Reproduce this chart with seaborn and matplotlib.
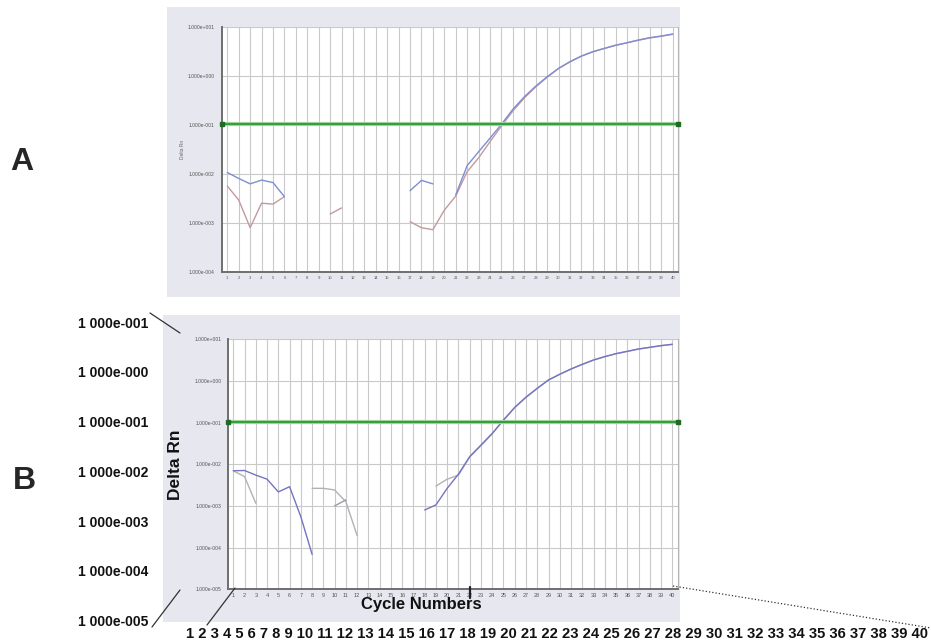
import numpy as np
import pandas as pd
import seaborn as sns
import matplotlib
matplotlib.use("Agg")
import matplotlib.pyplot as plt
from matplotlib.patches import Rectangle
from matplotlib.lines import Line2D
from matplotlib.ticker import FixedLocator, FixedFormatter

# ---------------- data ----------------
cycles = list(range(1, 41))
N = None

A_blue = [0.0106, 0.0080, 0.0062, 0.0074, 0.0066, 0.0034, N, N, N, N,
          N, N, N, N, N, N, 0.0045, 0.0073, 0.0062, N,
          0.0037, 0.0146, 0.028, 0.053, 0.102, 0.206, 0.37, 0.61, 0.95, 1.41,
          1.93, 2.52, 3.09, 3.6, 4.2, 4.7, 5.35, 5.97, 6.45, 7.1]
A_red = [0.0056, 0.0029, 0.00079, 0.0025, 0.0024, 0.0034, N, N, N, 0.0015,
         0.0020, N, N, N, N, N, 0.00105, 0.00079, 0.00072, 0.0018,
         0.0035, 0.011, 0.021, 0.045, 0.094, 0.19, 0.35, 0.59, 0.93, 1.40,
         1.92, 2.50, 3.07, 3.6, 4.15, 4.7, 5.3, 5.9, 6.4, 7.0]

B_blue = [0.0070, 0.0071, 0.0055, 0.0044, 0.00217, 0.0029, 0.00055, 0.000069, N, N,
          N, N, N, N, N, N, N, 0.0008, 0.00106, 0.00265,
          0.0058, 0.0153, 0.029, 0.055, 0.116, 0.233, 0.41, 0.667, 1.06, 1.45,
          1.94, 2.51, 3.19, 3.84, 4.53, 5.15, 5.86, 6.43, 7.05, 7.59]
B_grey = [0.0070, 0.00506, 0.00116, N, N, N, N, 0.00265, 0.00265, 0.00242,
          0.00127, 0.000194, N, N, N, N, N, N, 0.0030, 0.0044,
          0.0055, 0.0150, 0.028, 0.054, 0.113, 0.228, 0.40, 0.66, 1.05, 1.44,
          1.93, 2.50, 3.17, 3.82, 4.50, 5.12, 5.83, 6.40, 7.02, 7.55]
B_grey2 = [N] * 9 + [0.0010, 0.0014] + [N] * 29

threshold = 0.105
cursor_cycle = 22

A_yticks = [1e1, 1e0, 1e-1, 1e-2, 1e-3, 1e-4]
A_yticklabels = ["1.000e+001", "1.000e+000", "1.000e-001", "1.000e-002", "1.000e-003", "1.000e-004"]
B_yticks = [1e1, 1e0, 1e-1, 1e-2, 1e-3, 1e-4, 1e-5]
B_yticklabels = ["1.000e+001", "1.000e+000", "1.000e-001", "1.000e-002", "1.000e-003", "1.000e-004", "1.000e-005"]
big_labels = ["1 000e-001", "1 000e-000", "1 000e-001", "1 000e-002", "1 000e-003", "1 000e-004", "1 000e-005"]

# ---------------- style ----------------
sns.set_theme(style="white")
plt.rcParams['font.family'] = ['Liberation Sans', 'DejaVu Sans']

W, H = 931, 644
fig = plt.figure(figsize=(W / 100, H / 100), dpi=100)
fig.patch.set_facecolor("white")

def fx(x):
    return x / W

def fy(y):
    return 1 - y / H

def rect_px(x0, y0, x1, y1):
    return [fx(x0), fy(y1), fx(x1) - fx(x0), fy(y0) - fy(y1)]

# grey panels
for (x0, y0, x1, y1) in [(167, 7, 680, 297), (163, 315, 680, 622)]:
    fig.add_artist(Rectangle((fx(x0), fy(y1)), fx(x1) - fx(x0), fy(y0) - fy(y1),
                             transform=fig.transFigure, facecolor="#e7e7ef",
                             edgecolor="none", zorder=-5))

axA = fig.add_axes(rect_px(221.7, 26.7, 678, 271.7))
axB = fig.add_axes(rect_px(228.3, 339.3, 678.3, 589.3))

def segments(xs, ys):
    run_x, run_y = [], []
    for x, y in zip(xs, ys):
        if y is None:
            if run_x:
                yield run_x, run_y
            run_x, run_y = [], []
        else:
            run_x.append(x)
            run_y.append(y)
    if run_x:
        yield run_x, run_y

def draw_series(ax, ys, color, lw=1.0):
    for sx, sy in segments(cycles, ys):
        df = pd.DataFrame({"cycle": sx, "rn": sy})
        sns.lineplot(data=df, x="cycle", y="rn", color=color, lw=lw, ax=ax,
                     estimator=None, sort=False, zorder=3)

def style_axes(ax, yticks, yticklabels, ylim, xlim, xfs, yfs):
    ax.set_yscale("log")
    ax.set_ylim(*ylim)
    ax.set_xlim(*xlim)
    ax.yaxis.set_major_locator(FixedLocator(yticks))
    ax.yaxis.set_major_formatter(FixedFormatter(yticklabels))
    ax.yaxis.set_minor_locator(FixedLocator([]))
    ax.xaxis.set_major_locator(FixedLocator(cycles))
    ax.xaxis.set_major_formatter(FixedFormatter([str(c) for c in cycles]))
    ax.grid(True, which="major", color="#c9c9c9", lw=0.8)
    ax.set_axisbelow(True)
    ax.tick_params(axis="y", length=0, labelsize=yfs, labelcolor="#555555", pad=5)
    ax.tick_params(axis="x", length=0, labelsize=xfs, labelcolor="#555555", pad=3)
    for s in ["top", "right"]:
        ax.spines[s].set_color("#b5b5b5")
        ax.spines[s].set_linewidth(0.8)
    for s in ["left", "bottom"]:
        ax.spines[s].set_color("#6e6e6e")
        ax.spines[s].set_linewidth(1.4)
    ax.spines["top"].set_visible(False)
    ax.axhline(threshold, color="#a6d6a6", lw=3.0, zorder=4)
    ax.axhline(threshold, color="#35a03b", lw=1.5, zorder=4)
    ax.plot([0, 1], [threshold, threshold], ls="none", marker="s", ms=2.5,
            color="#1f6b25", transform=ax.get_yaxis_transform(), clip_on=False, zorder=5)
    ax.set_xlabel("")
    ax.set_ylabel("")

# ---------------- panel A ----------------
draw_series(axA, A_red, "#c29a9e")
draw_series(axA, A_blue, "#7f8ed2")
style_axes(axA, A_yticks, A_yticklabels, (1e-4, 1e1), (0.51, 40.46), 3.0, 3.6)
axA.set_ylabel("Delta Rn", fontsize=3.5, color="#666666", labelpad=2)

# ---------------- panel B ----------------
draw_series(axB, B_grey, "#b2b2b6")
draw_series(axB, B_grey2, "#9a9aa6")
draw_series(axB, B_blue, "#7474c2")
style_axes(axB, B_yticks, B_yticklabels, (1e-5, 1e1), (0.556, 40.53), 4.0, 3.6)
axB.set_ylabel("Delta Rn", fontsize=12.5, fontweight="bold", color="#111111")
axB.yaxis.set_label_coords(-0.101, 0.5)
axB.set_xlabel("Cycle Numbers", fontsize=12, fontweight="bold", color="#111111")
axB.xaxis.set_label_coords(0.43, -0.03)
axB.plot([cursor_cycle, cursor_cycle], [-0.035, 0.01], color="#222222", lw=1.6,
         transform=axB.get_xaxis_transform(), clip_on=False, zorder=6)

# ---------------- panel letters & magnified labels ----------------
fig.text(fx(22), fy(162), "A", fontsize=23, fontweight="bold", ha="center", va="center")
fig.text(fx(24), fy(481), "B", fontsize=23, fontweight="bold", ha="center", va="center")

label_y0, label_step = 323.5, 49.8
for i, lab in enumerate(big_labels):
    fig.text(fx(148), fy(label_y0 + i * label_step), lab, fontsize=10,
             fontweight="bold", ha="right", va="center", color="#111111")

bottom_row = " ".join(str(c) for c in cycles)
fig.text(fx(186), fy(634), bottom_row, fontsize=10.6, fontweight="bold",
         ha="left", va="center", color="#111111")

# connector lines (figure pixel coordinates)
for (x0, y0, x1, y1, ls) in [(150, 313, 180, 333, "-"), (152, 627, 180, 590, "-"),
                             (207, 625, 235, 588, "-"), (673, 586, 931, 628, ":")]:
    fig.add_artist(Line2D([fx(x0), fx(x1)], [fy(y0), fy(y1)], transform=fig.transFigure,
                          color="#333333", lw=0.9, ls=ls))

fig.savefig("out.png", dpi=100)
